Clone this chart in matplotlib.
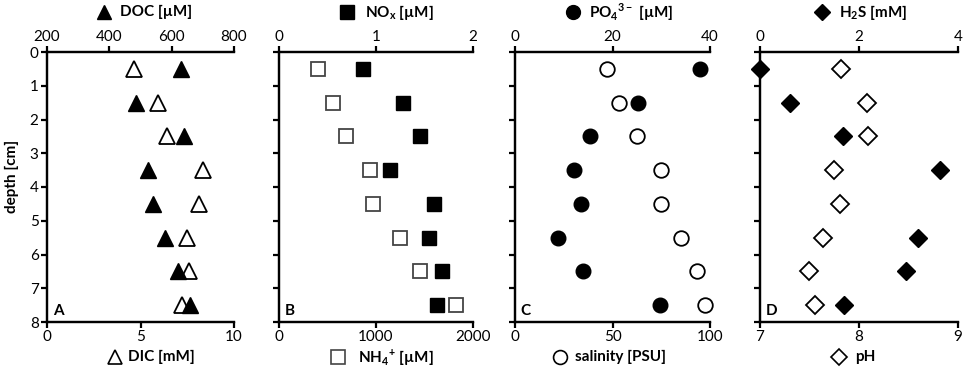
import matplotlib
matplotlib.use("Agg")
import matplotlib.pyplot as plt
from matplotlib.lines import Line2D
import numpy as np

plt.rcParams['font.family'] = ['Lato', 'DejaVu Sans']
plt.rcParams['mathtext.fontset'] = 'custom'
plt.rcParams['mathtext.rm'] = 'Lato'
plt.rcParams['mathtext.bf'] = 'Lato:bold'

depth = [0.5, 1.5, 2.5, 3.5, 4.5, 5.5, 6.5, 7.5]

doc = [631, 485, 640, 525, 539, 579, 620, 658]           # µM (top)
dic = [4.67, 5.96, 6.44, 8.32, 8.11, 7.50, 7.62, 7.23]   # mM (bottom)
nox = [0.87, 1.28, 1.455, 1.14, 1.60, 1.55, 1.68, 1.63]  # µM (top)
nh4 = [407, 552, 686, 938, 966, 1245, 1455, 1828]        # µM (bottom)
po4 = [37.9, 25.3, 15.4, 12.0, 13.5, 8.75, 14.0, 29.7]   # µM (top)
sal = [47.0, 53.5, 62.4, 74.7, 74.7, 85.0, 93.2, 97.4]   # PSU (bottom)
h2s = [0.0, 0.61, 1.67, 3.64, np.nan, 3.20, 2.95, 1.70]  # mM (top)
ph = [7.82, 8.08, 8.09, 7.75, 7.81, 7.64, 7.49, 7.56]    # pH (bottom)

top_ticks = [[200, 400, 600, 800], [0, 1, 2], [0, 20, 40], [0, 2, 4]]
bot_ticks = [[0, 5, 10], [0, 1000, 2000], [0, 50, 100], [7, 8, 9]]
top_lims = [(200, 800), (0, 2), (0, 40), (0, 4)]
bot_lims = [(0, 10), (0, 2000), (0, 100), (7, 9)]
depth_ticks = [0, 1, 2, 3, 4, 5, 6, 7, 8]
letters = ['A', 'B', 'C', 'D']

W, H = 964, 372
fig = plt.figure(figsize=(W / 100, H / 100), dpi=100)

panels_px = [(47, 234), (279, 473), (515, 710), (760, 958)]
top_px, bot_px = 52, 322

markers = ['^', 's', 'o', 'D']
msizes = [11, 10, 10.5, 9]
open_edge = ['black', '#444444', 'black', 'black']

top_series = [doc, nox, po4, h2s]
bot_series = [dic, nh4, sal, ph]

top_labels = ['DOC [µM]', r'NO$_\mathregular{x}$ [µM]',
              r'PO$_\mathregular{4}$$^\mathregular{3-}$ [µM]', r'H$_\mathregular{2}$S [mM]']
bot_labels = ['DIC [mM]', r'NH$_\mathregular{4}$$^\mathregular{+}$ [µM]', 'salinity [PSU]', 'pH']
top_lab_px = [(104, 120), (347, 365), (573, 589), (822, 839)]
bot_lab_px = [(115, 128), (338, 358), (560, 575), (839, 855)]

lw = 1.6
for i in range(4):
    l, r = panels_px[i]
    ax = fig.add_axes([l / W, 1 - bot_px / H, (r - l) / W, (bot_px - top_px) / H])
    ax2 = ax.twiny()
    for a in (ax, ax2):
        a.spines['right'].set_visible(False)
        for s in ('left', 'top', 'bottom'):
            a.spines[s].set_linewidth(lw)
        a.set_facecolor('none')
    ax.set_ylim(8, 0)
    ax.set_yticks(depth_ticks)
    if i == 0:
        ax.set_ylabel('depth [cm]', fontsize=11, fontweight='bold')
        ax.yaxis.set_label_coords(-0.15, 0.54)
    else:
        ax.set_yticklabels([])
    ax.set_xlim(*bot_lims[i])
    ax.set_xticks(bot_ticks[i])
    ax2.set_xlim(*top_lims[i])
    ax2.set_xticks(top_ticks[i])
    ax.tick_params(axis='both', direction='out', length=4, width=lw, labelsize=11, pad=2)
    ax2.tick_params(axis='x', direction='out', length=4, width=lw, labelsize=11, pad=2)

    ax.plot(bot_series[i], depth, linestyle='none', marker=markers[i], ms=msizes[i],
            mfc='white', mec=open_edge[i], mew=1.3, clip_on=False, zorder=3)
    ax2.plot(top_series[i], depth, linestyle='none', marker=markers[i], ms=msizes[i],
             mfc='black', mec='black', mew=1.0, clip_on=False, zorder=4)

    ax.text(0.03, 0.015, letters[i], transform=ax.transAxes, fontsize=11,
            fontweight='bold', ha='left', va='bottom')

    # header / footer labels with marker symbols
    mx, tx = top_lab_px[i]
    fig.add_artist(Line2D([mx / W], [1 - 12 / H], marker=markers[i], ms=msizes[i] * 0.95,
                          mfc='black', mec='black', transform=fig.transFigure))
    fig.text(tx / W, 1 - 12 / H, top_labels[i], fontsize=11, fontweight='bold',
             ha='left', va='center')
    mx, tx = bot_lab_px[i]
    fig.add_artist(Line2D([mx / W], [1 - 357 / H], marker=markers[i], ms=msizes[i] * 0.95,
                          mfc='white', mec=open_edge[i], mew=1.2, transform=fig.transFigure))
    fig.text(tx / W, 1 - 357 / H, bot_labels[i], fontsize=11, fontweight='bold',
             ha='left', va='center')

fig.savefig('out.png', dpi=100)
